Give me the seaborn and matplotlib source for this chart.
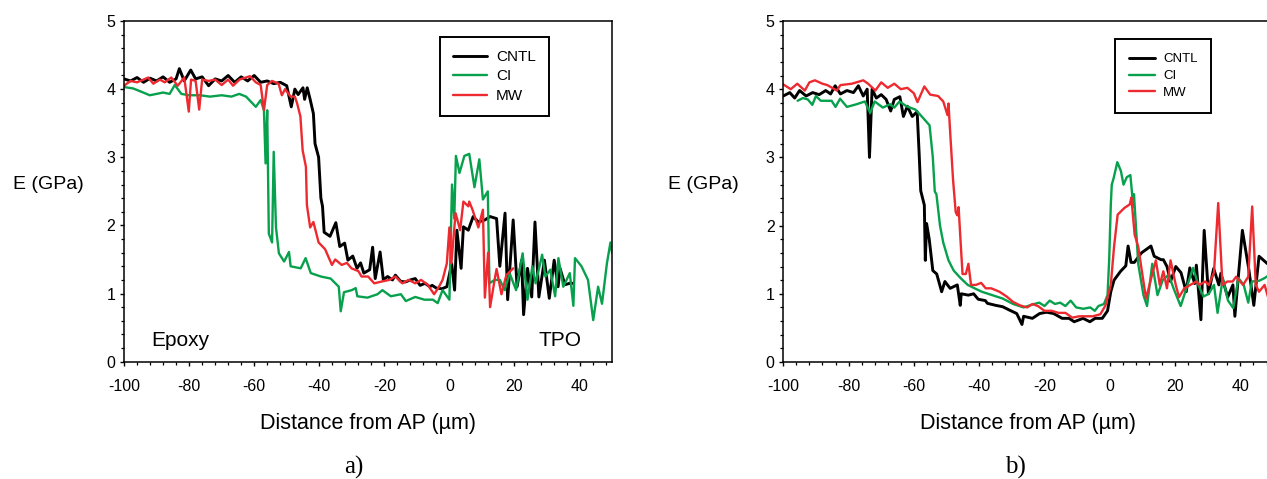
import matplotlib
matplotlib.use("Agg")
import matplotlib.pyplot as plt
import seaborn as sns
from matplotlib.ticker import MultipleLocator

# ---- data (x in um, E in GPa) ----
series_names = ["CNTL", "CI", "MW"]
series_colors = ["#000000", "#07a04c", "#ec2a2f"]
series_widths = [2.1, 1.7, 1.7]

# panel a)
a_cntl_x = [-100, -98, -96, -94, -92, -90, -88, -86, -84, -83, -81.5, -79.5, -78, -76, -74, -72, -70,
            -68, -66, -64, -62, -60, -58, -56, -54, -52, -50, -48.6, -47.5, -46.5, -45, -44.5, -43.7,
            -42.8, -41.8, -41.3, -40.2, -39.5, -39, -38.5, -36.7, -34.9, -33.7, -32.2, -31.2, -29.7,
            -28.4, -27.3, -26.3, -24.5, -23.6, -22.8, -21.3, -20.3, -19, -17.5, -16.6, -15, -13.5, -12,
            -10.5, -9, -7.5, -6, -5.3, -4, -2.3, -0.8, 0.7, 1.6, 2.3, 3.6, 4.3, 5.8, 7.3, 8.9, 10.9,
            12.5, 14.5, 15.5, 17.1, 17.9, 19.6, 20.8, 22.2, 22.8, 24.0, 25.3, 26.3, 27.5, 29.2, 30.7,
            32.2, 33.4, 34, 35.5, 37, 38.1]
a_cntl_y = [4.15, 4.12, 4.17, 4.1, 4.16, 4.12, 4.18, 4.1, 4.15, 4.3, 4.12, 4.28, 4.15, 4.18, 4.05, 4.15,
            4.12, 4.2, 4.1, 4.18, 4.12, 4.2, 4.1, 4.12, 4.08, 4.1, 4.05, 3.74, 4.0, 3.92, 4.02, 3.85,
            4.02, 3.85, 3.64, 3.2, 3.0, 2.4, 2.28, 1.9, 1.84, 2.04, 1.69, 1.74, 1.49, 1.55, 1.37, 1.45,
            1.3, 1.35, 1.68, 1.22, 1.61, 1.2, 1.25, 1.2, 1.27, 1.18, 1.17, 1.2, 1.22, 1.12, 1.15, 1.1,
            1.12, 1.08, 1.07, 1.1, 1.44, 1.05, 1.93, 1.37, 1.98, 1.93, 2.13, 2.05, 2.08, 2.13, 2.1, 1.4,
            2.18, 0.91, 2.08, 1.1, 1.49, 0.69, 1.37, 0.95, 2.05, 0.95, 1.49, 0.93, 1.49, 1.1, 1.37,
            1.13, 1.15, 1.15]

a_ci_x = [-100, -97.2, -94.6, -92.1, -90, -88, -86, -84.4, -82.4, -80, -76.7, -73.6, -70, -67, -64.6,
          -62.5, -59.5, -58, -57, -56.5, -56, -55.5, -54.5, -54, -53.3, -52.4, -50.8, -49.3, -48.8,
          -45.7, -44.2, -42.6, -39.5, -36.5, -34, -33.4, -32.4, -30, -28.8, -28.3, -25.2, -22.1,
          -20.6, -18, -14.9, -13.4, -10.5, -7.7, -5.1, -3.6, -2.1, 0, 0.8, 1.5, 2, 3.1, 4.6, 6.1,
          7.7, 9.2, 10.3, 11.8, 12.3, 13.9, 15.5, 17, 18.5, 20.5, 22.5, 24, 25.5, 26.5, 28.5, 29.5,
          31, 32.5, 33.5, 35, 37, 38.1, 38.6, 40.6, 42.6, 44.2, 45.7, 46.9, 48.4, 49.5, 50]
a_ci_y = [4.03, 4.01, 3.96, 3.91, 3.93, 3.95, 3.93, 4.06, 3.93, 3.91, 3.91, 3.89, 3.91, 3.89, 3.93,
          3.89, 3.74, 3.84, 3.69, 2.91, 3.69, 1.88, 1.75, 3.08, 1.97, 1.59, 1.47, 1.61, 1.4, 1.37,
          1.52, 1.3, 1.25, 1.22, 1.1, 0.74, 1.02, 1.05, 1.08, 0.96, 0.94, 0.99, 1.05, 0.96, 0.99,
          0.89, 0.95, 0.91, 0.91, 0.86, 1.05, 0.91, 2.6, 2.1, 3.02, 2.77, 3.02, 3.05, 2.56, 2.97,
          2.38, 2.5, 1.15, 1.2, 1.2, 1.05, 1.3, 1.05, 1.59, 0.91, 1.4, 1.15, 1.57, 1.25, 1.35, 0.96,
          1.52, 1.1, 1.3, 0.82, 1.52, 1.4, 1.2, 0.61, 1.1, 0.85, 1.44, 1.75, 1.6]

a_mw_x = [-100, -98, -96, -94, -92.6, -91, -89, -87.5, -85.5, -83.5, -81.5, -80.1, -79.4, -78, -76.9,
          -76, -74, -72, -70, -68, -66.5, -64.5, -61.3, -59.5, -58, -57, -56, -54.5, -52.5, -51.5,
          -50.5, -48.8, -47.5, -46.8, -45.8, -45.1, -44.1, -43.8, -42.8, -41.8, -40.2, -38.2, -36.1,
          -35.1, -33.1, -31.5, -30.1, -28, -27, -25, -23.1, -20.5, -18.5, -16.6, -14.5, -12.5, -10.5,
          -8.7, -6.7, -4.7, -3.2, -2.1, -0.8, 0, 0.6, 1.9, 3.3, 4.3, 5.8, 6.1, 7.1, 8.9, 10.3, 10.9,
          11.9, 12.5, 14, 14.5, 16, 17.5, 19.6]
a_mw_y = [4.05, 4.12, 4.1, 4.14, 4.17, 4.08, 4.14, 4.1, 4.17, 4.05, 4.17, 3.67, 4.14, 4.12, 3.7, 4.14,
          4.12, 4.14, 4.06, 4.14, 4.05, 4.14, 4.19, 4.1, 4.06, 3.69, 4.06, 4.12, 4.08, 3.91, 4.0,
          3.89, 3.89, 3.79, 3.6, 3.1, 2.86, 2.3, 1.97, 2.05, 1.75, 1.65, 1.42, 1.5, 1.42, 1.45, 1.37,
          1.33, 1.25, 1.25, 1.15, 1.18, 1.2, 1.25, 1.15, 1.2, 1.15, 1.2, 1.13, 0.99, 1.1, 1.2, 1.44,
          1.97, 1.44, 2.18, 1.93, 2.35, 2.28, 2.35, 2.23, 1.97, 2.23, 0.94, 1.6, 0.8, 1.23, 1.36,
          0.99, 1.27, 1.37]

# panel b)
b_cntl_x = [-100, -98, -96.5, -95, -93, -91, -89, -87, -85.5, -84.1, -82.5, -80.5, -78.5, -77, -75.5,
            -74.3, -73.6, -72.8, -71.5, -70, -68.5, -67.1, -66, -64.3, -63.2, -62, -60.5, -59, -58.4,
            -57.9, -56.8, -56.5, -56.1, -55.3, -54.2, -53, -51.5, -50.5, -48.9, -46.7, -45.8, -45.5,
            -43.3, -41.7, -40.3, -38.1, -37.5, -34.9, -32.8, -30.7, -28.5, -26.9, -26.4, -23.7, -21.5,
            -19.4, -17.2, -14.6, -12.5, -10.9, -8.2, -6.1, -4.5, -2.3, -0.7, 0.3, 1.3, 3.3, 4.9, 5.6,
            6.5, 7.5, 9.7, 12.6, 13.6, 15.7, 16.4, 17.5, 18.6, 20.2, 21.8, 23.4, 24.5, 26, 26.5, 27.9,
            28.9, 30.2, 31.8, 33.4, 34, 36.1, 37.7, 38.3, 40.6, 42.5, 44.1, 45.7, 48.3, 50]
b_cntl_y = [3.9, 3.95, 3.87, 3.98, 3.9, 3.95, 3.92, 3.98, 3.93, 4.05, 3.93, 3.98, 3.95, 4.05, 3.9, 4.0,
            3.0, 4.0, 3.87, 3.92, 3.85, 3.68, 3.85, 3.89, 3.6, 3.75, 3.6, 3.67, 3.07, 2.51, 2.3, 1.49,
            2.03, 1.8, 1.34, 1.29, 1.03, 1.18, 1.08, 1.13, 0.83, 1.0, 0.98, 1.0, 0.92, 0.9, 0.86, 0.83,
            0.81, 0.76, 0.71, 0.55, 0.67, 0.64, 0.71, 0.73, 0.71, 0.64, 0.64, 0.59, 0.64, 0.59, 0.64,
            0.64, 0.75, 1.03, 1.2, 1.33, 1.41, 1.7, 1.46, 1.46, 1.6, 1.7, 1.55, 1.5, 1.5, 1.4, 1.18,
            1.4, 1.31, 1.03, 1.38, 1.15, 1.42, 0.62, 1.93, 1.0, 1.37, 1.13, 1.3, 0.95, 1.13, 0.67,
            1.93, 1.38, 0.83, 1.55, 1.44, 1.4]

b_ci_x = [-95.6, -94, -92.5, -91.1, -90, -88.5, -85.2, -84, -82.6, -80.5, -77.5, -75, -73.4, -72,
          -69.5, -67.3, -66, -64.4, -62.3, -59.5, -57.4, -55.2, -54.2, -53.6, -53.1, -52, -51, -49.4,
          -47.8, -45.7, -43.5, -41.4, -39.2, -36, -32.8, -29.6, -26.4, -23.2, -21.6, -20, -18.4,
          -16.8, -15.2, -13.6, -12, -10.3, -8.1, -6, -4.6, -3.5, -1.8, -0.7, -0.2, 0.3, 0.6, 1.2,
          2.3, 3.4, 4.2, 5.2, 6.3, 7.2, 7.4, 8.7, 10.3, 11.4, 13, 14.6, 16.2, 18, 19.6, 21.7, 23.8,
          25.5, 27.1, 28.7, 30.3, 31.9, 33, 34.6, 36.2, 37.8, 39.4, 41, 42.4, 43.5, 45.7, 47.4, 49]
b_ci_y = [3.83, 3.87, 3.85, 3.77, 3.9, 3.83, 3.83, 3.74, 3.86, 3.74, 3.78, 3.82, 3.65, 3.82, 3.73,
          3.78, 3.73, 3.82, 3.75, 3.7, 3.59, 3.47, 3.0, 2.5, 2.46, 2.0, 1.75, 1.49, 1.34, 1.23, 1.13,
          1.08, 1.03, 0.98, 0.93, 0.85, 0.8, 0.85, 0.87, 0.82, 0.9, 0.85, 0.87, 0.82, 0.9, 0.8, 0.78,
          0.8, 0.75, 0.82, 0.85, 0.98, 1.49, 2.3, 2.6, 2.7, 2.93, 2.8, 2.6, 2.71, 2.74, 2.27, 2.46,
          1.44, 0.98, 0.82, 1.44, 0.98, 1.2, 1.28, 1.07, 0.82, 1.13, 1.38, 1.13, 0.96, 1.0, 1.13,
          0.72, 1.23, 0.9, 0.79, 1.23, 1.13, 0.87, 1.18, 1.19, 1.23, 1.28]

b_mw_x = [-100, -97.7, -95.7, -93.4, -92, -90.3, -88, -86.5, -83.6, -82.5, -79, -75.5, -74, -71.8,
          -70, -68, -66, -64, -62, -60, -58.9, -56.8, -55, -52.6, -51, -49.7, -49.4, -48.8, -48,
          -47.2, -46.7, -46.3, -45.7, -45.1, -44.1, -43.3, -42.5, -41, -39.4, -38, -36.3, -33.8,
          -31.6, -29.6, -27.5, -25.3, -23.7, -22, -20, -17.8, -15.7, -13.6, -11.5, -9.3, -7.3, -5.2,
          -2.9, -1.3, 0.3, 1.3, 2.4, 4.5, 6.1, 6.6, 7.6, 8.7, 10.3, 11.1, 13, 14.1, 15.3, 16.4, 17.5,
          18.6, 20.2, 21.2, 22.8, 26.5, 27.5, 29.2, 30.3, 31.9, 33.2, 34.5, 36, 37.6, 38.7, 40.8,
          42.4, 43.6, 44.7, 45.7, 47.4, 48.4, 50]
b_mw_y = [4.07, 4.0, 4.08, 3.98, 4.1, 4.13, 4.08, 4.06, 3.98, 4.06, 4.08, 4.13, 4.08, 3.98, 4.1, 4.02,
          4.08, 4.0, 4.02, 3.94, 3.81, 4.04, 3.92, 3.9, 3.82, 3.62, 3.79, 3.3, 2.67, 2.2, 2.15, 2.27,
          1.77, 1.29, 1.29, 1.44, 1.13, 1.13, 1.16, 1.08, 1.08, 1.03, 0.96, 0.88, 0.83, 0.8, 0.85,
          0.82, 0.75, 0.75, 0.72, 0.72, 0.65, 0.67, 0.67, 0.67, 0.7, 0.83, 1.13, 1.69, 2.16, 2.26,
          2.31, 2.41, 1.87, 1.69, 1.18, 0.93, 1.29, 1.49, 1.13, 1.33, 1.08, 1.49, 1.13, 0.95, 1.08,
          1.18, 1.13, 1.18, 1.13, 1.31, 2.33, 1.13, 1.18, 1.18, 1.25, 1.13, 1.25, 2.28, 1.13, 1.03,
          1.13, 0.96, 0.95]

x_ticks = [-100, -80, -60, -40, -20, 0, 20, 40]
y_ticks = [0, 1, 2, 3, 4, 5]

sns.set_style("ticks")
plt.rcParams['font.family'] = ['Liberation Sans', 'DejaVu Sans']
plt.rcParams['axes.unicode_minus'] = False
plt.rcParams['text.color'] = 'black'
plt.rcParams['axes.labelcolor'] = 'black'
plt.rcParams['xtick.color'] = 'black'
plt.rcParams['ytick.color'] = 'black'
plt.rcParams['axes.linewidth'] = 1.1
plt.rcParams['xtick.major.width'] = 1.0
plt.rcParams['ytick.major.width'] = 1.0
plt.rcParams['xtick.minor.width'] = 0.9
plt.rcParams['ytick.minor.width'] = 0.9

fig = plt.figure(figsize=(12.67, 4.79), dpi=100)
ax_a = fig.add_axes([0.0979, 0.2449, 0.3852, 0.7113])
ax_b = fig.add_axes([0.6182, 0.2443, 0.3866, 0.7119])


def draw_panel(ax, xs, ys, legend_size, legend_anchor, handle_len, pad, label_x, tag, tag_x):
    for name, col, lw, x, y in zip(series_names, series_colors, series_widths, xs, ys):
        sns.lineplot(x=x, y=y, ax=ax, color=col, linewidth=lw, label=name,
                     estimator=None, sort=False)
    ax.set_xlim(-100, 50)
    ax.set_ylim(0, 5)
    ax.set_xticks(x_ticks)
    ax.set_yticks(y_ticks)
    ax.xaxis.set_minor_locator(MultipleLocator(4))
    ax.yaxis.set_minor_locator(MultipleLocator(0.2))
    ax.tick_params(which='major', direction='out', length=3.2, labelsize=11.5,
                   colors='black', labelcolor='black')
    ax.tick_params(which='minor', direction='out', length=2.0)
    ax.tick_params(axis='x', which='major', pad=9)
    ax.tick_params(axis='y', which='major', pad=3)
    for s in ax.spines.values():
        s.set_color('black')
    ax.set_xlabel("Distance from AP (\u00b5m)", fontsize=15.5, labelpad=14)
    ax.set_ylabel("E (GPa)", fontsize=14, rotation=0, ha='center', va='center')
    ax.yaxis.set_label_coords(label_x, 0.52)
    leg = ax.legend(loc='upper left', bbox_to_anchor=legend_anchor, fontsize=legend_size,
                    frameon=True, fancybox=False, framealpha=1, edgecolor='black',
                    handlelength=handle_len, handletextpad=0.6, labelspacing=0.36,
                    borderpad=pad, borderaxespad=0)
    leg.get_frame().set_linewidth(1.4)
    for t in leg.get_texts():
        t.set_color('black')
    ax.text(tag_x, -0.31, tag, transform=ax.transAxes, ha='center', va='center',
            fontsize=18, family=['Liberation Serif', 'DejaVu Serif'])


draw_panel(ax_a, [a_cntl_x, a_ci_x, a_mw_x], [a_cntl_y, a_ci_y, a_mw_y],
           11, (0.648, 0.953), 2.2, 0.85, -0.156, "a)", 0.47)
draw_panel(ax_b, [b_cntl_x, b_ci_x, b_mw_x], [b_cntl_y, b_ci_y, b_mw_y],
           9.5, (0.677, 0.947), 2.0, 1.05, -0.164, "b)", 0.475)

ax_a.text(-91.5, 0.235, "Epoxy", fontsize=15, ha='left', va='baseline')
ax_a.text(27.3, 0.235, "TPO", fontsize=15, ha='left', va='baseline')

fig.savefig("out.png", dpi=100)
